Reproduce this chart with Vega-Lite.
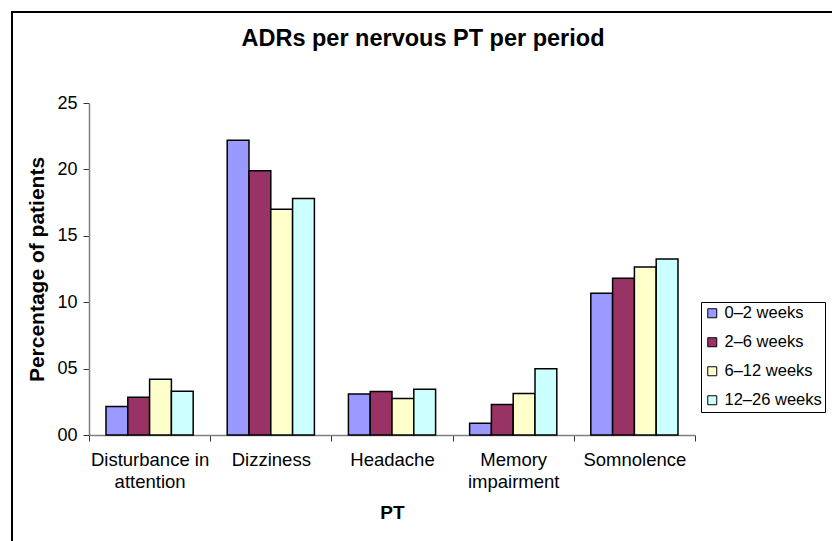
{
  "$schema": "https://vega.github.io/schema/vega-lite/v6.json",
  "autosize": {"type": "none"},
  "width": 822,
  "height": 531,
  "padding": {"left": 12, "top": 12, "right": -2, "bottom": -2},
  "background": "white",
  "title": {
    "text": "ADRs per nervous PT per period",
    "font": "Liberation Sans",
    "fontSize": 23.5,
    "fontWeight": "bold",
    "color": "black",
    "anchor": "middle",
    "baseline": "alphabetic",
    "offset": -57
  },
  "data": {
    "values": [
      {"pt": "Disturbance in attention", "period": "0–2 weeks", "pct": 2.15},
      {"pt": "Disturbance in attention", "period": "2–6 weeks", "pct": 2.85},
      {"pt": "Disturbance in attention", "period": "6–12 weeks", "pct": 4.2},
      {"pt": "Disturbance in attention", "period": "12–26 weeks", "pct": 3.3},
      {"pt": "Dizziness", "period": "0–2 weeks", "pct": 22.2},
      {"pt": "Dizziness", "period": "2–6 weeks", "pct": 19.9},
      {"pt": "Dizziness", "period": "6–12 weeks", "pct": 17.0},
      {"pt": "Dizziness", "period": "12–26 weeks", "pct": 17.8},
      {"pt": "Headache", "period": "0–2 weeks", "pct": 3.08},
      {"pt": "Headache", "period": "2–6 weeks", "pct": 3.28},
      {"pt": "Headache", "period": "6–12 weeks", "pct": 2.75},
      {"pt": "Headache", "period": "12–26 weeks", "pct": 3.45},
      {"pt": "Memory impairment", "period": "0–2 weeks", "pct": 0.88},
      {"pt": "Memory impairment", "period": "2–6 weeks", "pct": 2.3},
      {"pt": "Memory impairment", "period": "6–12 weeks", "pct": 3.12},
      {"pt": "Memory impairment", "period": "12–26 weeks", "pct": 4.98},
      {"pt": "Somnolence", "period": "0–2 weeks", "pct": 10.68},
      {"pt": "Somnolence", "period": "2–6 weeks", "pct": 11.8},
      {"pt": "Somnolence", "period": "6–12 weeks", "pct": 12.65},
      {"pt": "Somnolence", "period": "12–26 weeks", "pct": 13.25}
    ]
  },
  "mark": {"type": "bar", "stroke": "black", "strokeWidth": 1.5},
  "encoding": {
    "x": {
      "field": "pt",
      "type": "nominal",
      "sort": null,
      "title": "PT",
      "scale": {"range": [77, 683], "paddingInner": 0, "paddingOuter": 0},
      "axis": {
        "offset": -108,
        "tickBand": "extent",
        "labelAngle": 0,
        "labelFont": "Liberation Sans",
        "labelFontSize": 18.5,
        "labelColor": "black",
        "labelPadding": 9,
        "labelLineHeight": 22,
        "labelExpr": "datum.label == 'Disturbance in attention' ? ['Disturbance in', 'attention'] : datum.label == 'Memory impairment' ? ['Memory', 'impairment'] : datum.label",
        "domainColor": "#808080",
        "domainWidth": 1.5,
        "tickColor": "#333333",
        "tickSize": 6,
        "titleFont": "Liberation Sans",
        "titleFontSize": 19,
        "titleFontWeight": "bold",
        "titleColor": "black",
        "titlePadding": 13
      }
    },
    "xOffset": {
      "field": "period",
      "type": "nominal",
      "sort": ["0–2 weeks", "2–6 weeks", "6–12 weeks", "12–26 weeks"],
      "scale": {"paddingInner": 0, "paddingOuter": 0.78}
    },
    "y": {
      "field": "pct",
      "type": "quantitative",
      "title": "Percentage of patients",
      "scale": {"domain": [0, 25], "nice": false, "range": [423, 91]},
      "axis": {
        "offset": -77,
        "values": [0, 5, 10, 15, 20, 25],
        "grid": false,
        "labelExpr": "datum.value < 10 ? '0' + datum.value : '' + datum.value",
        "labelFont": "Liberation Sans",
        "labelFontSize": 18,
        "labelColor": "black",
        "labelPadding": 6,
        "domainColor": "#808080",
        "domainWidth": 1.5,
        "tickColor": "#333333",
        "tickSize": 6,
        "titleFont": "Liberation Sans",
        "titleFontSize": 21,
        "titleFontWeight": "bold",
        "titleColor": "black",
        "titlePadding": 9
      }
    },
    "color": {
      "field": "period",
      "type": "nominal",
      "sort": ["0–2 weeks", "2–6 weeks", "6–12 weeks", "12–26 weeks"],
      "title": null,
      "scale": {
        "domain": ["0–2 weeks", "2–6 weeks", "6–12 weeks", "12–26 weeks"],
        "range": ["#9999FF", "#993366", "#FFFFCC", "#CCFFFF"]
      },
      "legend": {
        "orient": "none",
        "legendX": 689,
        "legendY": 290,
        "strokeColor": "black",
        "padding": 3,
        "symbolType": "square",
        "symbolSize": 81,
        "symbolStrokeColor": "black",
        "symbolStrokeWidth": 1,
        "labelFont": "Liberation Sans",
        "labelFontSize": 16.5,
        "labelColor": "black",
        "labelOffset": 4,
        "rowPadding": 12
      }
    }
  },
  "config": {
    "view": {"stroke": "black", "strokeWidth": 2}
  }
}
